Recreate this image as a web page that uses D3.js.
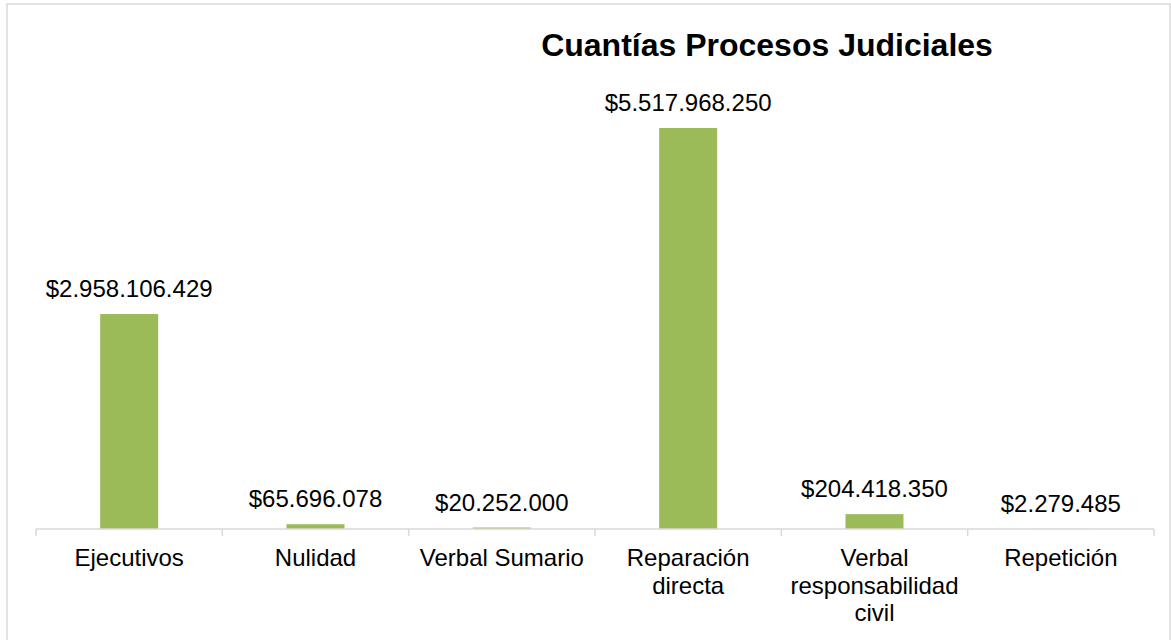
<!DOCTYPE html>
<html>
<head>
<meta charset="utf-8">
<script src="https://cdn.jsdelivr.net/npm/d3@7"></script>
<style>
  html, body { margin: 0; padding: 0; background: #fff; }
  svg { display: block; font-family: "Liberation Sans", Arial, sans-serif; }
</style>
</head>
<body>
<svg id="chart" width="1171" height="640"></svg>
<script>
// Procesos judiciales: tipos y cuantías
const categories = ["Ejecutivos", "Nulidad", "Verbal Sumario", "Reparación directa", "Verbal responsabilidad civil", "Repetición"];
const amounts = [2958106429, 65696078, 20252000, 5517968250, 204418350, 2279485];
const chartTitle = "Cuantías Procesos Judiciales";

const svg = d3.select("#chart");

// Colombian-style number formatting: $2.958.106.429
const locale = d3.formatLocale({ decimal: ",", thousands: ".", grouping: [3], currency: ["$", ""] });
const fmt = locale.format("$,");

// chart frame
svg.append("rect")
  .attr("x", 7).attr("y", 4)
  .attr("width", 1163).attr("height", 660)
  .attr("fill", "#fff")
  .attr("stroke", "#d9d9d9")
  .attr("stroke-width", 1.5);

const plot = { left: 36, right: 1154, top: 93, bottom: 529 };
const barWidth = 58;

const xBand = d3.scaleBand().domain(categories).range([plot.left, plot.right]);
const y = d3.scaleLinear().domain([0, 6e9]).range([plot.bottom, plot.top]);

// title
svg.append("text")
  .attr("x", 767).attr("y", 56)
  .attr("text-anchor", "middle")
  .attr("font-size", 32)
  .attr("font-weight", "bold")
  .attr("fill", "#000")
  .text(chartTitle);

// bars
const data = categories.map((c, i) => ({ c, v: amounts[i] }));
svg.append("g").selectAll("rect")
  .data(data)
  .join("rect")
  .attr("x", d => xBand(d.c) + (xBand.bandwidth() - barWidth) / 2)
  .attr("width", barWidth)
  .attr("y", d => y(d.v))
  .attr("height", d => y(0) - y(d.v))
  .attr("fill", "#9bbb59");

// value labels
svg.append("g").selectAll("text")
  .data(data)
  .join("text")
  .attr("x", d => xBand(d.c) + xBand.bandwidth() / 2)
  .attr("y", d => y(d.v) - 17)
  .attr("text-anchor", "middle")
  .attr("font-size", 24)
  .attr("fill", "#000")
  .text(d => fmt(d.v));

// category axis: baseline, boundary ticks and wrapped labels
const axisG = svg.append("g").attr("transform", `translate(0,${plot.bottom})`);
axisG.call(d3.axisBottom(xBand).tickSize(0).tickPadding(0));
axisG.select(".domain").attr("stroke", "#d9d9d9").attr("stroke-width", 1.5).attr("d", `M${plot.left},0H${plot.right}`);

const bounds = categories.map(c => xBand(c)).concat([plot.right]);
axisG.selectAll(".bound")
  .data(bounds)
  .join("line")
  .attr("class", "bound")
  .attr("x1", d => d).attr("x2", d => d)
  .attr("y1", 0).attr("y2", 7)
  .attr("stroke", "#d9d9d9")
  .attr("stroke-width", 1.5);

axisG.selectAll(".tick text")
  .attr("font-size", 24)
  .attr("font-family", "'Liberation Sans', Arial, sans-serif")
  .attr("fill", "#000")
  .attr("y", 0)
  .attr("dy", null)
  .each(function() {
    const t = d3.select(this);
    const words = t.text().split(/\s+/);
    t.text(null);
    const maxW = 180;
    const lines = [];
    let cur = [];
    const probe = t.append("tspan");
    words.forEach(w => {
      probe.text(cur.concat([w]).join(" "));
      if (probe.node().getComputedTextLength() > maxW && cur.length) {
        lines.push(cur.join(" "));
        cur = [w];
      } else {
        cur.push(w);
      }
    });
    lines.push(cur.join(" "));
    probe.remove();
    lines.forEach((ln, i) => {
      t.append("tspan")
        .attr("x", 0)
        .attr("y", 37 + i * 27.5)
        .text(ln);
    });
  });
</script>
</body>
</html>
